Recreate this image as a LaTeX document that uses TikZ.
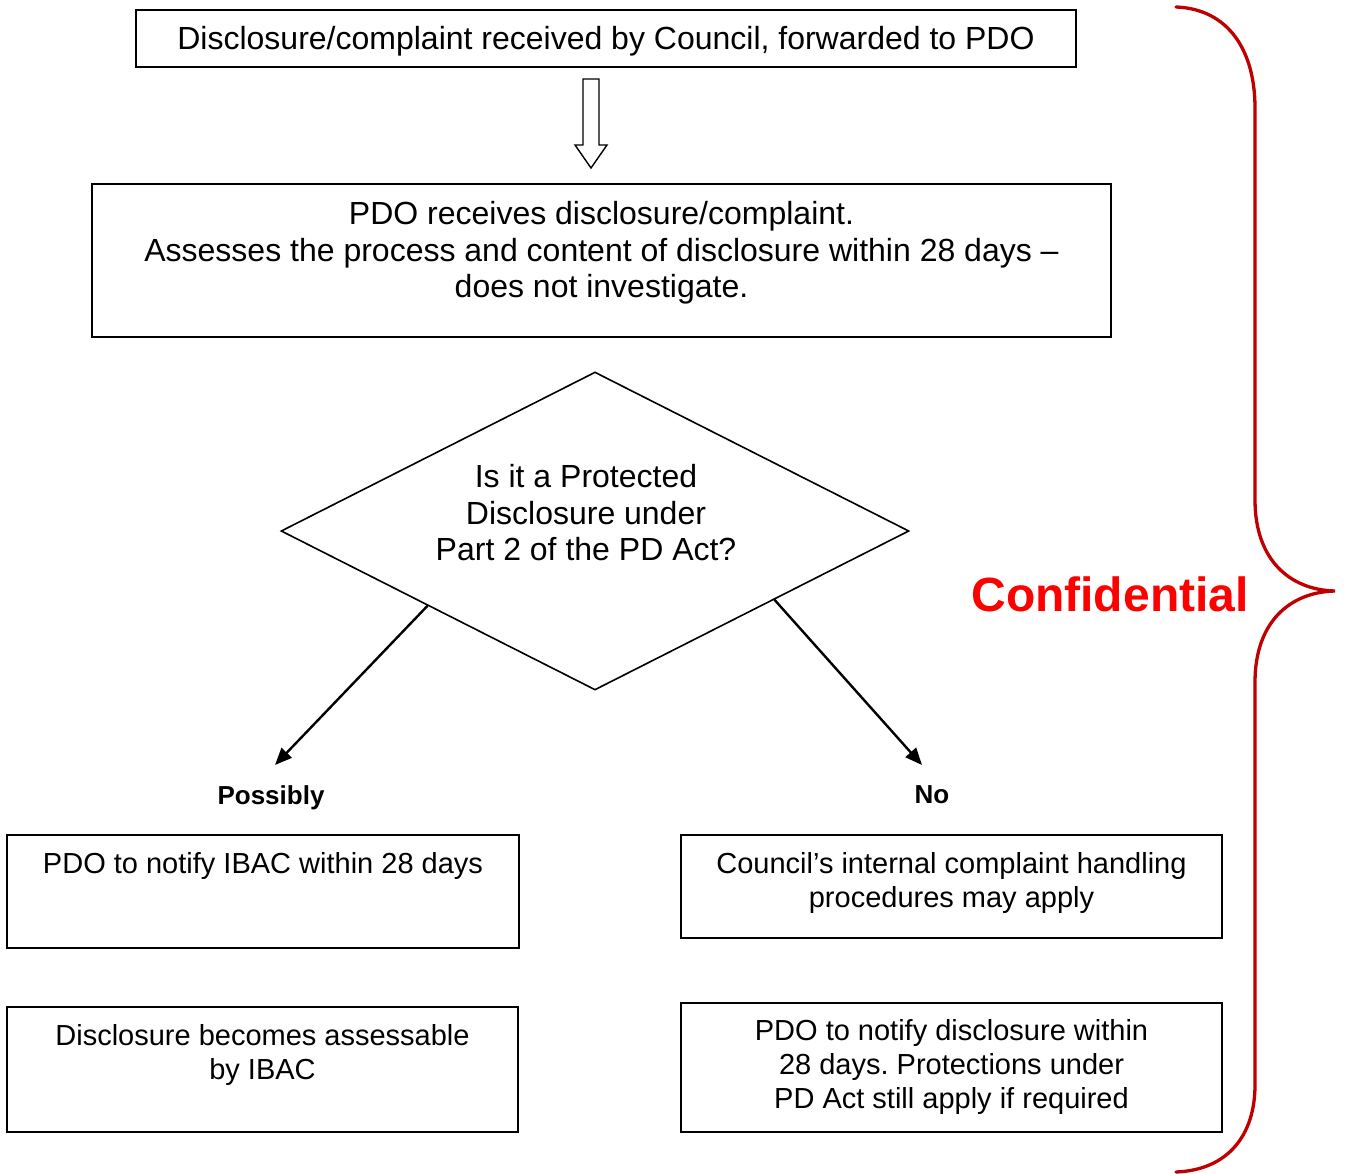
\documentclass[tikz,border=0pt]{standalone}
\usepackage{fontspec}
\setmainfont{Liberation Sans}
\usetikzlibrary{shapes.geometric,arrows.meta,calc}
\definecolor{bracered}{HTML}{C00000}
\definecolor{confred}{HTML}{FF0000}
\frenchspacing
\tikzset{
  box/.style={draw, line width=1.6pt, inner sep=0pt},
  bigtxt/.style={align=center, font=\fontsize{32}{36.5}\selectfont, inner sep=0pt},
  smalltxt/.style={align=center, font=\fontsize{29}{34}\selectfont, inner sep=0pt},
  lbl/.style={font=\fontsize{26}{30}\selectfont\bfseries, inner sep=0pt},
  flow/.style={line width=2.4pt, -{Triangle[length=17pt,width=14pt]}},
}
\begin{document}
\begin{tikzpicture}[x=1pt,y=-1pt]
\useasboundingbox (0,0) rectangle (1346,1174);
% boxes
\node[box, minimum width=940, minimum height=57] (b1) at (606,38.5) {};
\node[bigtxt] (t1) at (606,41.5) {Disclosure/complaint received by Council, forwarded to PDO};
\node[box, minimum width=1019, minimum height=153] (b2) at (601.5,260.5) {};
\node[bigtxt] (t2) at (601.5,253) {PDO receives disclosure/complaint.\\Assesses the process and content of disclosure within 28 days --\\does not investigate.};
\node[draw, diamond, line width=1.6pt, inner sep=0pt, minimum width=628, minimum height=318] (d) at (595,531) {};
\node[bigtxt] (td) at (586,513) {Is it a Protected\\Disclosure under\\Part 2 of the PD Act?};
\node[box, minimum width=512, minimum height=113] (b3) at (263,891.5) {};
\node[smalltxt] (t3) at (263,866) {PDO to notify IBAC within 28 days};
\node[box, minimum width=541, minimum height=103] (b4) at (951.5,886.5) {};
\node[smalltxt] (t4) at (951.5,883) {Council’s internal complaint handling\\procedures may apply};
\node[box, minimum width=511, minimum height=125] (b5) at (262.5,1069.5) {};
\node[smalltxt] (t5) at (262.5,1055) {Disclosure becomes assessable\\by IBAC};
\node[box, minimum width=541, minimum height=129] (b6) at (951.5,1067.5) {};
\node[smalltxt] (t6) at (951.5,1067) {PDO to notify disclosure within\\28 days. Protections under\\PD Act still apply if required};
% labels
\node[lbl] (lp) at (271,798) {Possibly};
\node[lbl] (ln) at (932,795) {No};
% connectors
\coordinate (ls) at ($(d.west)!0.468!(d.south)$);
\coordinate (rs) at ($(d.east)!0.43!(d.south)$);
\coordinate (le) at (275,765);
\coordinate (re) at (922,765);
\draw[flow] (ls) -- (le);
\draw[flow] (rs) -- (re);
% block arrow
\draw[line width=1.4pt, line join=miter] (583,79) -- (599,79) -- (599,145) -- (607,145) -- (591,168) -- (575,145) -- (583,145) -- cycle;
% brace
\draw[bracered, line width=3.3pt, line cap=round]
  (1176,7) .. controls (1228,9) and (1255,50) .. (1255,108)
  -- (1255,500)
  .. controls (1255,560) and (1290,590) .. (1335,591)
  .. controls (1290,592) and (1255,622) .. (1255,682)
  -- (1255,1085)
  .. controls (1255,1135) and (1228,1170) .. (1176,1172);
\node[font=\fontsize{48}{52}\selectfont\bfseries, text=confred, inner sep=0pt] (conf) at (1110,594) {Confidential};
\end{tikzpicture}
\end{document}
